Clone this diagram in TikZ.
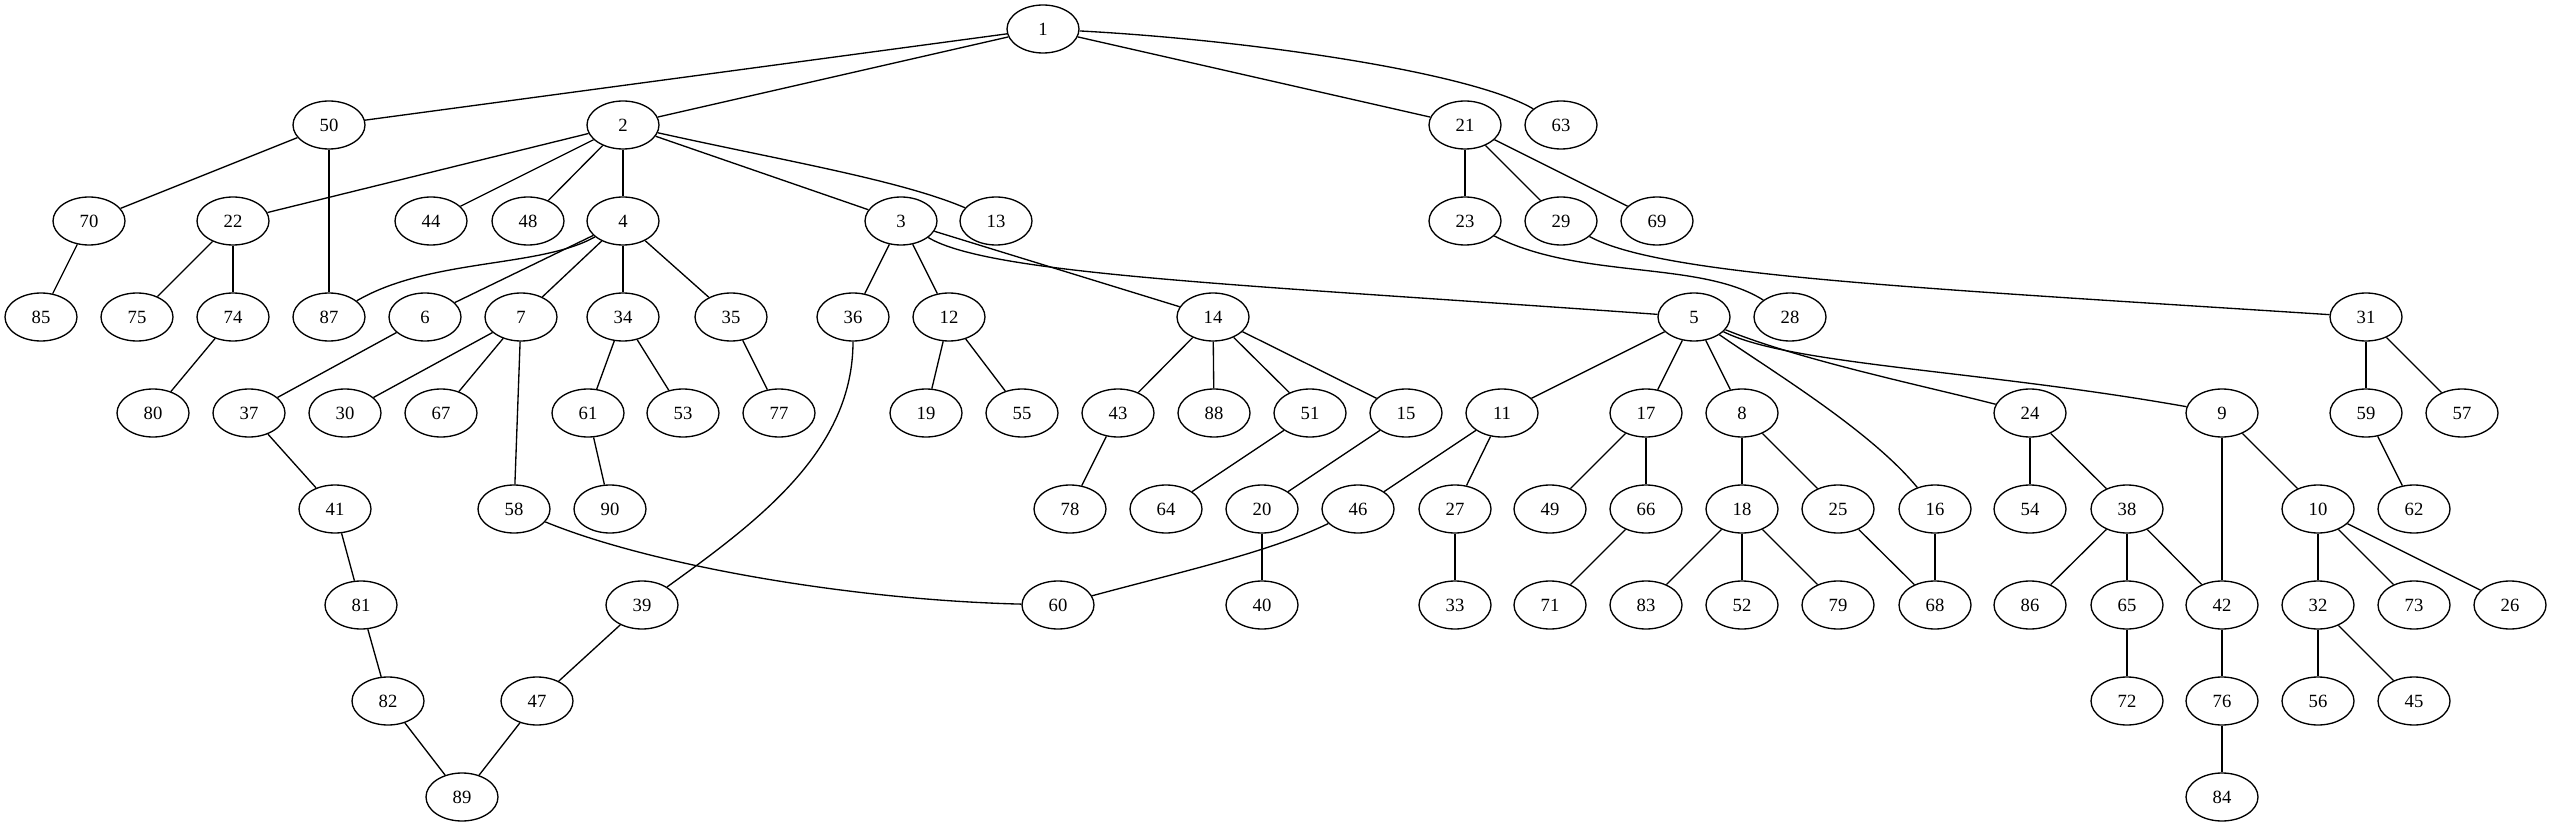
\documentclass[tikz,border=0pt]{standalone}
\usepackage{fontspec}
\setmainfont{Liberation Serif}
\usetikzlibrary{shapes.geometric}
\begin{document}
\begin{tikzpicture}[x=0.75pt,y=-0.75pt,
  nd/.style={ellipse,draw,line width=1pt,minimum width=54pt,minimum height=36pt,inner sep=0pt,font=\fontsize{14}{16}\selectfont},
  ed/.style={line width=1pt}]
\useasboundingbox (0,0) rectangle (2552,827);
% rank 0
\node[nd] (n1) at (1043,29) {1};
% rank 1
\node[nd] (n50) at (329,125) {50};
\node[nd] (n2) at (623,125) {2};
\node[nd] (n21) at (1465,125) {21};
\node[nd] (n63) at (1561,125) {63};
% rank 2
\node[nd] (n70) at (89,221) {70};
\node[nd] (n22) at (233,221) {22};
\node[nd] (n44) at (431,221) {44};
\node[nd] (n48) at (528,221) {48};
\node[nd] (n4) at (623,221) {4};
\node[nd] (n3) at (901,221) {3};
\node[nd] (n13) at (996,221) {13};
\node[nd] (n23) at (1465,221) {23};
\node[nd] (n29) at (1561,221) {29};
\node[nd] (n69) at (1657,221) {69};
% rank 3
\node[nd] (n85) at (41,317) {85};
\node[nd] (n75) at (137,317) {75};
\node[nd] (n74) at (233,317) {74};
\node[nd] (n87) at (329,317) {87};
\node[nd] (n6) at (425,317) {6};
\node[nd] (n7) at (521,317) {7};
\node[nd] (n34) at (623,317) {34};
\node[nd] (n35) at (731,317) {35};
\node[nd] (n36) at (853,317) {36};
\node[nd] (n12) at (949,317) {12};
\node[nd] (n14) at (1213,317) {14};
\node[nd] (n5) at (1694,317) {5};
\node[nd] (n28) at (1790,317) {28};
\node[nd] (n31) at (2366,317) {31};
% rank 4
\node[nd] (n80) at (153,413) {80};
\node[nd] (n37) at (249,413) {37};
\node[nd] (n30) at (345,413) {30};
\node[nd] (n67) at (441,413) {67};
\node[nd] (n61) at (588,413) {61};
\node[nd] (n53) at (683,413) {53};
\node[nd] (n77) at (779,413) {77};
\node[nd] (n19) at (926,413) {19};
\node[nd] (n55) at (1022,413) {55};
\node[nd] (n43) at (1118,413) {43};
\node[nd] (n88) at (1214,413) {88};
\node[nd] (n51) at (1310,413) {51};
\node[nd] (n15) at (1406,413) {15};
\node[nd] (n11) at (1502,413) {11};
\node[nd] (n17) at (1646,413) {17};
\node[nd] (n8) at (1742,413) {8};
\node[nd] (n24) at (2030,413) {24};
\node[nd] (n9) at (2222,413) {9};
\node[nd] (n59) at (2366,413) {59};
\node[nd] (n57) at (2462,413) {57};
% rank 5
\node[nd] (n41) at (335,509) {41};
\node[nd] (n58) at (514,509) {58};
\node[nd] (n90) at (610,509) {90};
\node[nd] (n78) at (1070,509) {78};
\node[nd] (n64) at (1166,509) {64};
\node[nd] (n20) at (1262,509) {20};
\node[nd] (n46) at (1358,509) {46};
\node[nd] (n27) at (1455,509) {27};
\node[nd] (n49) at (1550,509) {49};
\node[nd] (n66) at (1646,509) {66};
\node[nd] (n18) at (1742,509) {18};
\node[nd] (n25) at (1838,509) {25};
\node[nd] (n16) at (1935,509) {16};
\node[nd] (n54) at (2030,509) {54};
\node[nd] (n38) at (2127,509) {38};
\node[nd] (n10) at (2318,509) {10};
\node[nd] (n62) at (2414,509) {62};
% rank 6
\node[nd] (n81) at (361,605) {81};
\node[nd] (n39) at (642,605) {39};
\node[nd] (n60) at (1058,605) {60};
\node[nd] (n40) at (1262,605) {40};
\node[nd] (n33) at (1455,605) {33};
\node[nd] (n71) at (1550,605) {71};
\node[nd] (n83) at (1646,605) {83};
\node[nd] (n52) at (1742,605) {52};
\node[nd] (n79) at (1838,605) {79};
\node[nd] (n68) at (1935,605) {68};
\node[nd] (n86) at (2030,605) {86};
\node[nd] (n65) at (2127,605) {65};
\node[nd] (n42) at (2222,605) {42};
\node[nd] (n32) at (2318,605) {32};
\node[nd] (n73) at (2414,605) {73};
\node[nd] (n26) at (2510,605) {26};
% rank 7
\node[nd] (n82) at (388,701) {82};
\node[nd] (n47) at (537,701) {47};
\node[nd] (n72) at (2127,701) {72};
\node[nd] (n76) at (2222,701) {76};
\node[nd] (n56) at (2318,701) {56};
\node[nd] (n45) at (2414,701) {45};
% rank 8
\node[nd] (n89) at (462,797) {89};
\node[nd] (n84) at (2222,797) {84};

% straight edges
\foreach \a/\b in {1/50,1/2,1/21,50/70,50/87,2/22,2/44,2/48,2/4,2/3,21/23,21/29,21/69,
  70/85,22/75,22/74,4/6,4/7,4/34,4/35,3/36,3/12,3/14,74/80,6/37,7/30,7/67,7/58,
  34/61,34/53,35/77,12/19,12/55,14/43,14/88,14/51,14/15,5/11,5/17,5/8,31/59,31/57,
  37/41,61/90,43/78,51/64,15/20,11/46,11/27,17/49,17/66,8/18,8/25,24/54,24/38,9/42,9/10,
  59/62,41/81,20/40,27/33,66/71,18/83,18/52,18/79,25/68,16/68,38/86,38/65,38/42,
  10/32,10/73,10/26,81/82,39/47,65/72,42/76,32/56,32/45,82/89,47/89,76/84}
  \draw[ed] (n\a) -- (n\b);

% curved edges
\draw[ed] (n1) .. controls (1250,40) and (1470,72) .. (n63);
\draw[ed] (n2) .. controls (780,160) and (900,180) .. (n13);
\draw[ed] (n4) .. controls (540,268) and (430,258) .. (n87);
\draw[ed] (n3) .. controls (990,275) and (1250,285) .. (n5);
\draw[ed] (n23) .. controls (1580,280) and (1700,260) .. (n28);
\draw[ed] (n29) .. controls (1660,275) and (1900,287) .. (n31);
\draw[ed] (n36) .. controls (853,450) and (760,520) .. (n39);
\draw[ed] (n58) .. controls (650,565) and (850,600) .. (n60);
\draw[ed] (n46) .. controls (1270,552) and (1180,572) .. (n60);
\draw[ed] (n5) .. controls (1770,370) and (1870,430) .. (n16);
\draw[ed] (n5) .. controls (1800,360) and (1920,385) .. (n24);
\draw[ed] (n5) .. controls (1790,365) and (1980,370) .. (n9);
\end{tikzpicture}
\end{document}
